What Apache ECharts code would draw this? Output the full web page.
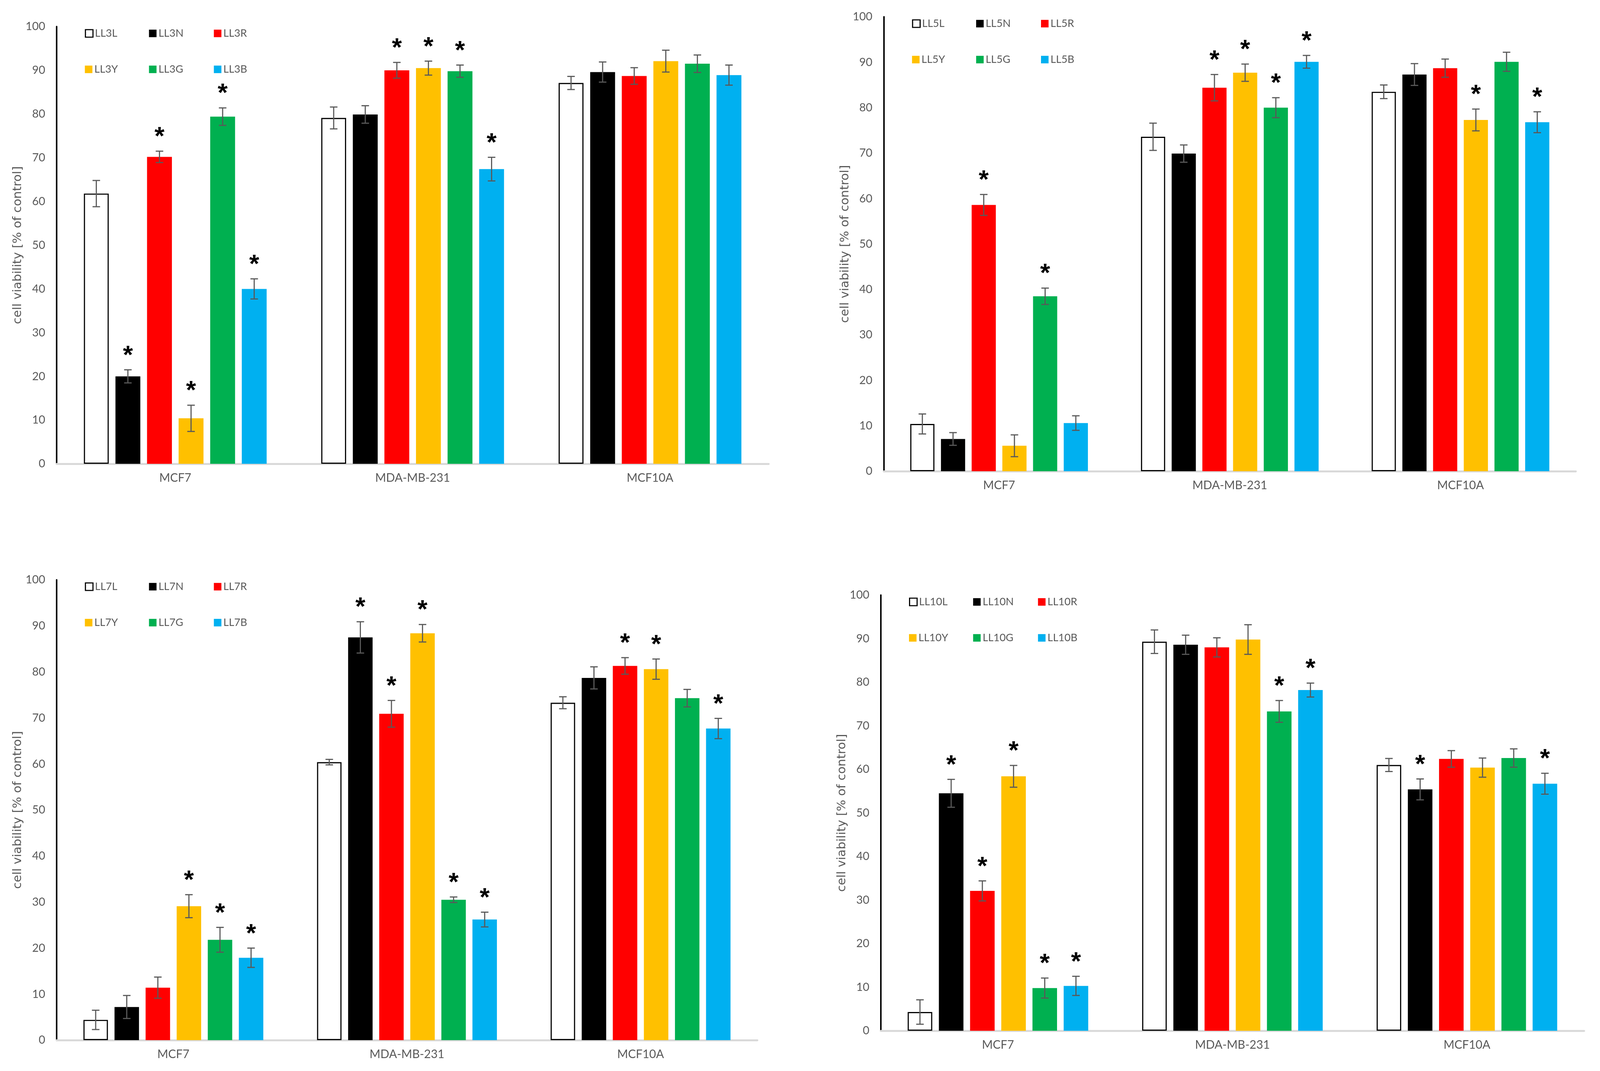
<!DOCTYPE html>
<html>
<head>
<meta charset="utf-8">
<title>cell viability</title>
<script src="https://cdn.jsdelivr.net/npm/echarts@6/dist/echarts.min.js"></script>
<style>
  html, body { margin: 0; padding: 0; background: #fff; overflow: hidden; }
  #main { width: 100vw; height: 100vh; }
</style>
</head>
<body>
<div id="main"></div>
<script>
// categories (cell lines) and series suffixes
var cells = ['MCF7', 'MDA-MB-231', 'MCF10A'];
var suffix = ['L', 'N', 'R', 'Y', 'G', 'B'];
var yTicks = [0, 10, 20, 30, 40, 50, 60, 70, 80, 90, 100];

// values per series (L,N,R,Y,G,B), each [MCF7, MDA-MB-231, MCF10A]
var LL3_mean = [[61.8, 79.1, 87.1], [20.0, 79.9, 89.6], [70.2, 90.0, 88.7], [10.4, 90.5, 92.1], [79.4, 89.8, 91.5], [40.0, 67.4, 88.9]];
var LL3_err  = [[3.0, 2.5, 1.5], [1.5, 2.0, 2.3], [1.3, 1.8, 1.9], [3.0, 1.6, 2.5], [2.0, 1.4, 2.0], [2.3, 2.7, 2.3]];
var LL3_star = [[0, 0, 0], [1, 0, 0], [1, 1, 0], [1, 1, 0], [1, 1, 0], [1, 1, 0]];

var LL5_mean = [[10.4, 73.6, 83.5], [7.1, 69.9, 87.3], [58.6, 84.4, 88.7], [5.6, 87.7, 77.3], [38.5, 80.0, 90.1], [10.6, 90.1, 76.8]];
var LL5_err  = [[2.2, 3.0, 1.5], [1.4, 1.9, 2.4], [2.3, 2.9, 2.0], [2.4, 1.9, 2.4], [1.8, 2.2, 2.1], [1.6, 1.4, 2.3]];
var LL5_star = [[0, 0, 0], [0, 0, 0], [1, 1, 0], [0, 1, 1], [1, 1, 0], [0, 1, 1]];

var LL7_mean = [[4.4, 60.4, 73.3], [7.2, 87.5, 78.7], [11.4, 70.9, 81.3], [29.1, 88.4, 80.6], [21.8, 30.5, 74.3], [17.9, 26.2, 67.7]];
var LL7_err  = [[2.1, 0.6, 1.3], [2.5, 3.4, 2.4], [2.3, 2.9, 1.8], [2.5, 1.9, 2.2], [2.7, 0.6, 1.9], [2.1, 1.6, 2.2]];
var LL7_star = [[0, 0, 0], [0, 1, 0], [0, 1, 1], [1, 1, 1], [1, 1, 0], [1, 1, 1]];

var LL10_mean = [[4.3, 89.3, 61.0], [54.5, 88.6, 55.4], [32.1, 88.0, 62.4], [58.4, 89.8, 60.4], [9.8, 73.3, 62.6], [10.3, 78.2, 56.7]];
var LL10_err  = [[2.8, 2.7, 1.5], [3.2, 2.2, 2.4], [2.3, 2.2, 1.9], [2.5, 3.4, 2.2], [2.3, 2.5, 2.1], [2.2, 1.6, 2.4]];
var LL10_star = [[0, 0, 0], [1, 0, 1], [1, 0, 0], [1, 0, 0], [1, 1, 0], [1, 1, 1]];

// panel boxes in reference pixels (4242 x 2741)
var panels = [
  { prefix: 'LL3',  mean: LL3_mean,  err: LL3_err,  star: LL3_star,  left: 150,  top: 68,   width: 1888, height: 1119 },
  { prefix: 'LL5',  mean: LL5_mean,  err: LL5_err,  star: LL5_star,  left: 2343, top: 43,   width: 1835, height: 1163 },
  { prefix: 'LL7',  mean: LL7_mean,  err: LL7_err,  star: LL7_star,  left: 150,  top: 1484, width: 1858, height: 1178 },
  { prefix: 'LL10', mean: LL10_mean, err: LL10_err, star: LL10_star, left: 2335, top: 1523, width: 1865, height: 1115 }
];

var colors = ['#ffffff', '#000000', '#ff0000', '#ffc000', '#00b050', '#00b0f0'];
var CAT_GAP = 0.23, BAR_GAP = 0.27;
var legCols = [75, 245, 417];
var legRows = [4, 96];
var FONT = 'Lato';

var chart = echarts.init(document.getElementById('main'));
var sx = chart.getWidth() / 4242, sy = chart.getHeight() / 2741;
var k = Math.min(sx, sy);

var grids = [], xAxes = [], yAxes = [], series = [], legends = [];

panels.forEach(function (p, g) {
  grids.push({ left: p.left * sx, top: p.top * sy, width: p.width * sx, height: p.height * sy });
  xAxes.push({
    type: 'category', gridIndex: g, data: cells,
    axisLine: { lineStyle: { color: '#d9d9d9', width: 5 * k } },
    axisTick: { show: false },
    axisLabel: { color: '#595959', fontSize: 31 * k, fontFamily: FONT, margin: 22 * k }
  });
  yAxes.push({
    type: 'value', gridIndex: g, min: 0, max: 100, interval: 10,
    name: 'cell viability [% of control]', nameLocation: 'middle', nameGap: 86 * k,
    nameTextStyle: { color: '#595959', fontSize: 32 * k, fontFamily: 'DejaVu Sans' },
    axisLine: { show: true, lineStyle: { color: '#000', width: 4 * k } },
    axisTick: { show: false },
    splitLine: { show: false },
    axisLabel: { color: '#595959', fontSize: 30 * k, fontFamily: FONT, margin: 30 * k }
  });

  suffix.forEach(function (s, i) {
    var name = p.prefix + s;
    var isOpen = (s === 'L');
    series.push({
      type: 'bar', name: name, xAxisIndex: g, yAxisIndex: g,
      barCategoryGap: (CAT_GAP * 100) + '%', barGap: (BAR_GAP * 100) + '%',
      itemStyle: isOpen ? { color: '#fff', borderColor: '#000', borderWidth: 3 * k } : { color: colors[i] },
      emphasis: { disabled: true },
      data: p.mean[i]
    });

    // error bars + significance marks
    var errData = p.mean[i].map(function (v, c) { return [c, v, p.err[i][c], p.star[i][c]]; });
    series.push({
      type: 'custom', name: name, xAxisIndex: g, yAxisIndex: g, z: 5,
      silent: true,
      renderItem: (function (idx) {
        return function (params, api) {
          var c = api.value(0), v = api.value(1), e = api.value(2), st = api.value(3);
          var band = api.size([1, 0])[0];
          var rem = band * (1 - CAT_GAP);
          var w = rem / (6 + 5 * BAR_GAP);
          var total = 6 * w + 5 * w * BAR_GAP;
          var x = api.coord([c, 0])[0] - total / 2 + idx * w * (1 + BAR_GAP) + w / 2;
          var yt = api.coord([c, v + e])[1];
          var yb = api.coord([c, v - e])[1];
          var ls = { stroke: '#595959', lineWidth: 3 * k };
          var cap = 10 * k;
          var kids = [
            { type: 'line', shape: { x1: x, y1: yt, x2: x, y2: yb }, style: ls },
            { type: 'line', shape: { x1: x - cap, y1: yt, x2: x + cap, y2: yt }, style: ls },
            { type: 'line', shape: { x1: x - cap, y1: yb, x2: x + cap, y2: yb }, style: ls }
          ];
          if (st) {
            kids.push({
              type: 'text',
              style: { x: x, y: yt - 2 * k, text: '*', fill: '#000', fontSize: 68 * k, fontWeight: 'bold',
                       fontFamily: 'Liberation Sans', textAlign: 'center', textVerticalAlign: 'bottom' }
            });
          }
          return { type: 'group', children: kids };
        };
      })(i),
      data: errData
    });

    legends.push({
      data: [isOpen ? { name: name, itemStyle: { color: '#fff', borderColor: '#000', borderWidth: 3 * k } } : { name: name }],
      left: (p.left + legCols[i % 3]) * sx, top: (p.top + legRows[Math.floor(i / 3)]) * sy,
      padding: 0, itemWidth: 20 * k, itemHeight: 20 * k, itemGap: 10 * k,
      icon: 'rect', selectedMode: false,
      textStyle: { color: '#595959', fontSize: 28 * k, fontFamily: FONT }
    });
  });
});

chart.setOption({
  backgroundColor: '#fff',
  animation: false,
  grid: grids,
  xAxis: xAxes,
  yAxis: yAxes,
  legend: legends,
  series: series
});
</script>
</body>
</html>
